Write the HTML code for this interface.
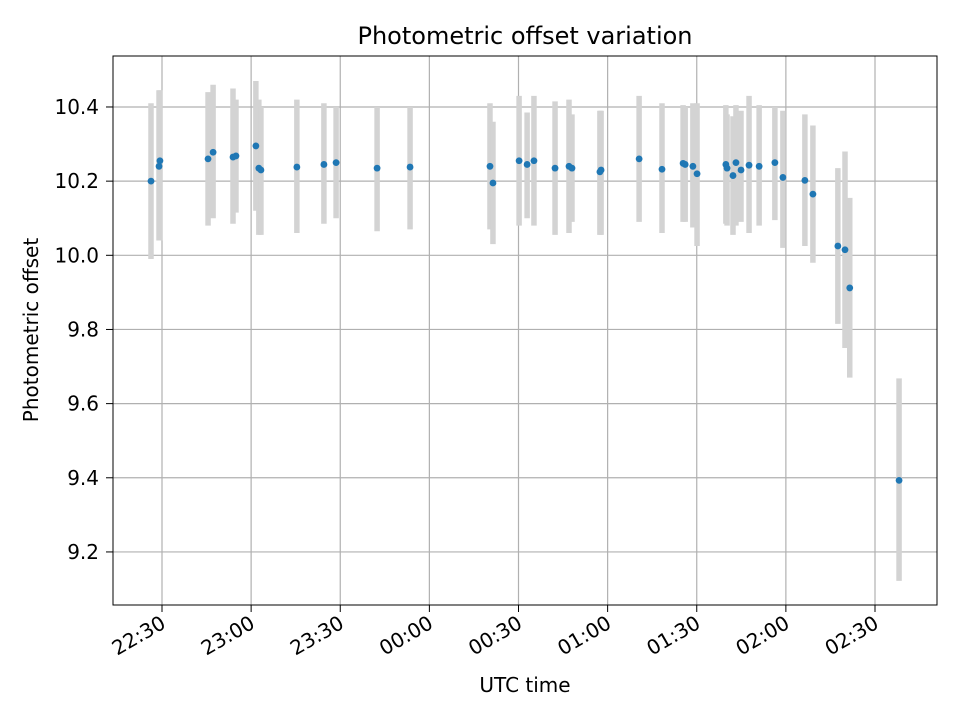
<!DOCTYPE html>
<html><head><meta charset="utf-8"><style>
body{margin:0;background:#fff;}
svg text{font-family:"DejaVu Sans","Liberation Sans",sans-serif;fill:#000;}
</style></head><body>
<svg id="chart" width="960" height="720" xmlns="http://www.w3.org/2000/svg">
<rect width="960" height="720" fill="#fff"/>
<g id="grid"></g>
<g id="bars"></g>
<g id="pts"></g>
<rect x="113" y="56" width="824" height="549" fill="none" stroke="#000" stroke-width="1"/>
<g id="axes"></g>
<text x="525" y="44" font-size="24" text-anchor="middle">Photometric offset variation</text>
<text x="525" y="692" font-size="20" text-anchor="middle">UTC time</text>
<text transform="translate(38,330) rotate(-90)" font-size="20" text-anchor="middle">Photometric offset</text>
</svg>
<script>
// minutes since 22:30 UTC
const times=[-3.7,-1.0,-0.7,15.5,17.2,23.9,24.9,31.6,32.6,33.3,45.4,54.5,58.6,72.4,83.5,110.4,111.4,120.2,122.9,125.2,132.3,137.0,138.0,147.4,147.8,160.6,168.3,175.4,176.1,178.7,180.1,189.8,190.2,192.2,193.2,194.9,197.6,201.0,206.3,209.0,216.4,219.1,227.5,229.9,231.5,248.1];
const values=[10.200,10.240,10.255,10.260,10.278,10.265,10.268,10.295,10.235,10.230,10.238,10.245,10.250,10.235,10.238,10.240,10.195,10.255,10.245,10.255,10.235,10.240,10.235,10.225,10.230,10.260,10.232,10.248,10.245,10.240,10.220,10.245,10.235,10.215,10.250,10.230,10.243,10.240,10.250,10.210,10.202,10.165,10.025,10.015,9.912,9.393];
const upper=[10.41,10.445,10.445,10.44,10.46,10.45,10.42,10.47,10.42,10.40,10.42,10.41,10.40,10.40,10.40,10.41,10.36,10.43,10.385,10.43,10.415,10.42,10.38,10.39,10.39,10.43,10.41,10.405,10.40,10.41,10.41,10.405,10.38,10.375,10.405,10.39,10.43,10.405,10.40,10.39,10.38,10.35,10.235,10.28,10.155,9.668];
const lower=[9.99,10.04,10.04,10.08,10.10,10.085,10.115,10.12,10.055,10.055,10.06,10.085,10.10,10.065,10.07,10.07,10.03,10.08,10.10,10.08,10.055,10.06,10.09,10.055,10.055,10.09,10.06,10.09,10.09,10.075,10.025,10.085,10.08,10.055,10.08,10.09,10.06,10.08,10.095,10.02,10.025,9.98,9.815,9.75,9.67,9.122];
const xTicks=[0,30,60,90,120,150,180,210,240];
const xTickLabels=["22:30","23:00","23:30","00:00","00:30","01:00","01:30","02:00","02:30"];
const yTicks=[9.2,9.4,9.6,9.8,10.0,10.2,10.4];
const yTickLabels=["9.2","9.4","9.6","9.8","10.0","10.2","10.4"];

const NS="http://www.w3.org/2000/svg";
const X=m=>162+m*89.125/30;
const Y=v=>255.3-(v-10)*370.8;
function mk(tag,attrs,parent){const e=document.createElementNS(NS,tag);for(const k in attrs)e.setAttribute(k,attrs[k]);parent.appendChild(e);return e;}
const grid=document.getElementById('grid'),axes=document.getElementById('axes'),bars=document.getElementById('bars'),pts=document.getElementById('pts');
xTicks.forEach((t,i)=>{
  const x=X(t);
  const g=mk('line',{x1:x,x2:x,y1:56,y2:605,stroke:'#b0b0b0','stroke-width':1.2},grid);
  
  
  const tk=mk('line',{x1:x,x2:x,y1:605,y2:612,stroke:'#000','stroke-width':1},axes);
  
  
  const tx=mk('text',{transform:`translate(${x+5},${627}) rotate(-30)`,'font-size':20,'text-anchor':'end'},axes);
  
  
  tx.textContent=xTickLabels[i];
});
yTicks.forEach((t,i)=>{
  const y=Y(t);
  const g=mk('line',{x1:113,x2:937,y1:y,y2:y,stroke:'#b0b0b0','stroke-width':1.2},grid);
  
  
  const tk=mk('line',{x1:106,x2:113,y1:y,y2:y,stroke:'#000','stroke-width':1},axes);
  
  
  const tx=mk('text',{x:99,y:y+7,'font-size':20,'text-anchor':'end'},axes);
  
  
  tx.textContent=yTickLabels[i];
});
times.forEach((t,i)=>{
  const x=X(t);
  const b=mk('line',{x1:x,x2:x,y1:Y(upper[i]),y2:Y(lower[i]),stroke:'#d3d3d3','stroke-width':5.5},bars);
  
  
});
times.forEach((t,i)=>{
  const c=mk('circle',{cx:X(t),cy:Y(values[i]),r:3.4,fill:'#1f77b4'},pts);
  
  
});
</script>
</body></html>
